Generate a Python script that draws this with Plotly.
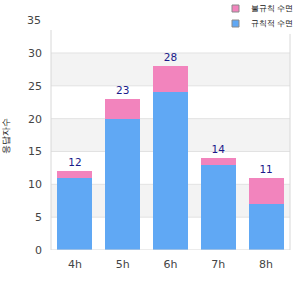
import plotly.graph_objects as go

categories = ["4h", "5h", "6h", "7h", "8h"]
base_values = [11, 20, 24, 13, 7]
extra_values = [1, 3, 4, 1, 4]
totals = [b + e for b, e in zip(base_values, extra_values)]
y_ticks = [0, 5, 10, 15, 20, 25, 30]
top_label = "35"
legend_extra = "불규칙 수면"
legend_base = "규칙적 수면"
y_title = "응답자수"

BLUE = "#60a8f4"
PINK = "#f284bd"
FONT = "DejaVu Sans"

fig = go.Figure()
fig.add_trace(go.Bar(x=categories, y=base_values, name=legend_base,
                     marker=dict(color=BLUE, line=dict(width=0)),
                     showlegend=False, hoverinfo="skip"))
fig.add_trace(go.Bar(x=categories, y=extra_values, name=legend_extra,
                     marker=dict(color=PINK, line=dict(width=0)),
                     text=[str(t) for t in totals], textposition="outside",
                     textfont=dict(color="#1a1a8a", size=10.5, family=FONT),
                     cliponaxis=False, showlegend=False, hoverinfo="skip"))

L, T, W, H = 51, 30, 239, 220


def px(xp):
    return (xp - L) / W


def py(yp):
    return (T + H - yp) / H


ytop = 33.5
shapes = []
for lo in (5, 15, 25):
    shapes.append(dict(type="rect", xref="paper", yref="y", x0=0, x1=1, y0=lo, y1=lo + 5,
                       fillcolor="#f3f3f3", line=dict(width=0), layer="below"))
for v in y_ticks[1:]:
    shapes.append(dict(type="line", xref="paper", yref="y", x0=0, x1=1, y0=v, y1=v,
                       line=dict(color="#e2e2e2", width=1), layer="below"))
shapes.append(dict(type="line", xref="paper", yref="y", x0=0, x1=0, y0=0, y1=ytop,
                   line=dict(color="#d8d8d8", width=1)))
shapes.append(dict(type="line", xref="paper", yref="y", x0=1, x1=1, y0=0, y1=ytop - 0.6,
                   line=dict(color="#d8d8d8", width=1)))
shapes.append(dict(type="line", xref="paper", yref="y", x0=0, x1=1, y0=0, y1=0,
                   line=dict(color="#d8d8d8", width=1)))

# legend
annotations = []
for i, (name, col) in enumerate([(legend_extra, PINK), (legend_base, BLUE)]):
    top = 5 + 15 * i
    shapes.append(dict(type="rect", xref="paper", yref="paper",
                       x0=px(232), x1=px(239), y0=py(top + 7), y1=py(top),
                       fillcolor=col, line=dict(color="#8a8a8a", width=1)))
    annotations.append(dict(text=name, xref="paper", yref="paper", x=px(249), y=py(top + 3.5),
                            xanchor="left", yanchor="middle", showarrow=False,
                            font=dict(size=7.5, color="#111")))

annotations.append(dict(text=top_label, xref="paper", yref="paper", x=0, y=35 / ytop,
                        xanchor="right", yanchor="middle", xshift=-8, showarrow=False,
                        font=dict(size=11, color="#444", family=FONT)))
annotations.append(dict(text=y_title, xref="paper", yref="paper", x=0, xshift=-45, y=0.52,
                        textangle=-90, xanchor="center", yanchor="middle", showarrow=False,
                        font=dict(size=9, color="#222")))

fig.update_layout(
    width=300, height=300,
    margin=dict(l=L, r=300 - L - W, t=T, b=300 - T - H, autoexpand=False),
    barmode="stack", bargap=0.27,
    plot_bgcolor="white", paper_bgcolor="white",
    font=dict(family=FONT, size=11, color="#444"),
    shapes=shapes,
    annotations=annotations,
    showlegend=False,
)
fig.update_yaxes(range=[0, ytop], tickvals=y_ticks, showgrid=False, zeroline=False,
                 showline=False, ticks="", ticklabelstandoff=8)
fig.update_xaxes(showgrid=False, showline=False, ticks="", ticklabelstandoff=6)

fig.write_html("out.html")
